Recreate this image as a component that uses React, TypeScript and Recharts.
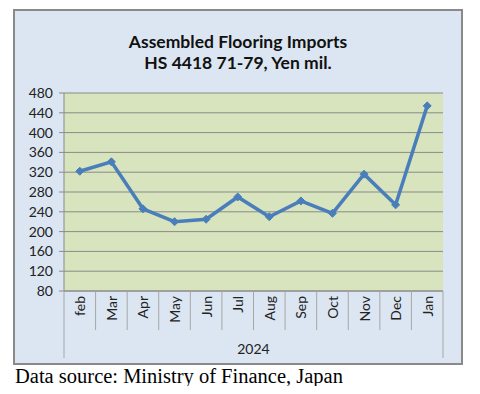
import React from "react";
import { LineChart, Line, XAxis, YAxis, CartesianGrid, Label } from "recharts";

const months = ["feb", "Mar", "Apr", "May", "Jun", "Jul", "Aug", "Sep", "Oct", "Nov", "Dec", "Jan"];
const imports = [322, 341, 246, 220, 225, 270, 230, 262, 237, 316, 254, 454];
const yTicks = [80, 120, 160, 200, 240, 280, 320, 360, 400, 440, 480];
const yearLabel = "2024";
const titleLine1 = "Assembled Flooring Imports";
const titleLine2 = "HS 4418 71-79, Yen mil.";
const sourceText = "Data source: Ministry of Finance, Japan";

const data = months.map((m, i) => ({ month: m, value: imports[i] }));

const CHART_W = 446;
const CHART_H = 352;
const MARGIN = { top: 82, right: 18, left: 0, bottom: 0 };
const Y_W = 49;
const X_H = 72;
const PLOT_W = CHART_W - MARGIN.left - MARGIN.right - Y_W;
const HALF_BAND = PLOT_W / months.length / 2;
const FONT = "Lato, 'Open Sans', sans-serif";

const MonthTick = (props: any) => {
  const { x, y, payload, index } = props;
  const first = index === 0;
  const last = index === months.length - 1;
  return (
    <g>
      <line x1={x - HALF_BAND} x2={x - HALF_BAND} y1={y} y2={y + (first ? 67 : 39)} stroke="#a6a6a6" strokeWidth={1} />
      {last && (
        <line x1={x + HALF_BAND} x2={x + HALF_BAND} y1={y} y2={y + 67} stroke="#a6a6a6" strokeWidth={1} />
      )}
      <text
        transform={`translate(${x},${y + 5}) rotate(-90)`}
        textAnchor="end"
        dominantBaseline="central"
        fontSize={14}
        fontFamily={FONT}
        fill="#222"
      >
        {payload.value}
      </text>
    </g>
  );
};

const Diamond = (props: any) => {
  const { cx, cy, index } = props;
  if (cx == null || cy == null) return <g key={index} />;
  const r = 4;
  return (
    <polygon
      key={index}
      points={`${cx},${cy - r} ${cx + r},${cy} ${cx},${cy + r} ${cx - r},${cy}`}
      fill="#4a7ebb"
      stroke="#4a7ebb"
    />
  );
};

export default function App() {
  return (
    <div style={{ position: "relative", margin: -8, width: 480, height: 394, background: "#fff", overflow: "hidden" }}>
      <div
        style={{
          position: "absolute",
          left: 13,
          top: 9,
          width: 450,
          height: 356,
          boxSizing: "border-box",
          border: "2px solid #8a8a8a",
          background: "#dce6f2",
        }}
      >
        <div
          style={{
            position: "absolute",
            left: 0,
            top: 20,
            width: "100%",
            textAlign: "center",
            fontFamily: FONT,
            fontWeight: 700,
            fontSize: 17.5,
            lineHeight: "21px",
            color: "#111",
          }}
        >
          <div>{titleLine1}</div>
          <div>{titleLine2}</div>
        </div>
        <LineChart width={CHART_W} height={CHART_H} data={data} margin={MARGIN}>
          <CartesianGrid vertical={false} fill="#d7e4bd" stroke="#8a8a8a" strokeWidth={1} fillOpacity={1} />
          <XAxis
            dataKey="month"
            scale="band"
            height={X_H}
            axisLine={{ stroke: "#8a8a8a" }}
            tickLine={false}
            tickSize={0}
            tickMargin={0}
            interval={0}
            tick={<MonthTick />}
          >
            <Label value={yearLabel} position="insideBottom" offset={9} fontSize={14} fontFamily={FONT} fill="#222" />
          </XAxis>
          <YAxis
            width={Y_W}
            domain={[80, 480]}
            ticks={yTicks}
            interval={0}
            axisLine={{ stroke: "#8a8a8a" }}
            tickLine={{ stroke: "#8a8a8a" }}
            tickSize={5}
            tickMargin={6}
            tick={{ fontSize: 14, fontFamily: FONT, fill: "#222" }}
          />
          <Line
            type="linear"
            dataKey="value"
            stroke="#4a7ebb"
            strokeWidth={3.5}
            dot={Diamond}
            activeDot={false}
            isAnimationActive={false}
          />
        </LineChart>
      </div>
      <div
        style={{
          position: "absolute",
          left: 15,
          top: 364,
          fontFamily: "'Liberation Serif', 'Times New Roman', serif",
          fontSize: 20.5,
          lineHeight: "24px",
          color: "#000",
          whiteSpace: "nowrap",
        }}
      >
        {sourceText}
      </div>
    </div>
  );
}
